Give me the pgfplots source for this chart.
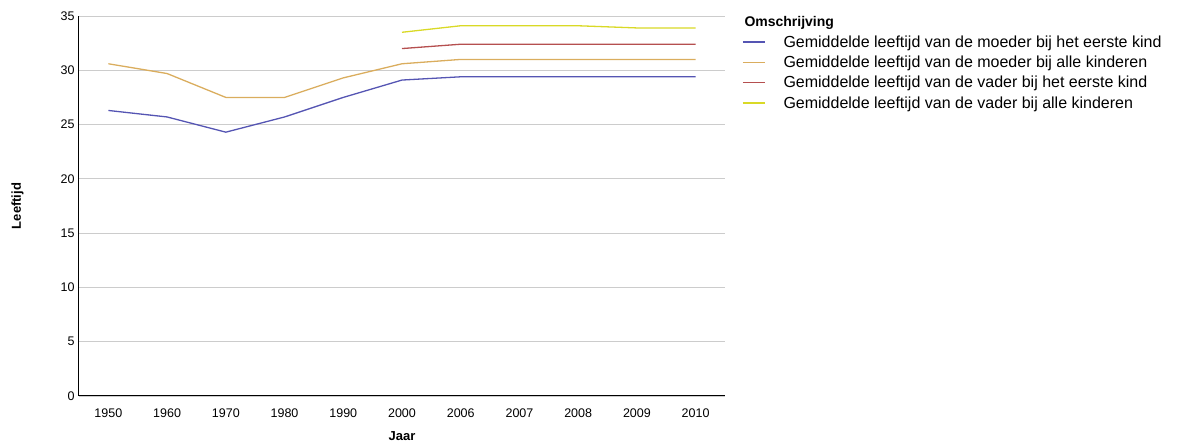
\documentclass[border=0pt]{standalone}
\usepackage{fontspec}
\setmainfont{Liberation Sans}
\usepackage{pgfplots}
\pgfplotsset{compat=1.18}
\definecolor{cblue}{HTML}{5555B3}
\definecolor{corange}{HTML}{DAAD5E}
\definecolor{cred}{HTML}{B54F4F}
\definecolor{cyellow}{HTML}{D9D926}
\begin{document}
\begin{tikzpicture}
\useasboundingbox (-79pt,-50pt) rectangle (1105pt,396pt);
\begin{axis}[
  anchor=south west, at={(0pt,0pt)},
  scale only axis, width=646pt, height=380pt,
  xmin=-0.5, xmax=10.5, ymin=0, ymax=35,
  xtick={0,...,10},
  xticklabels={1950,1960,1970,1980,1990,2000,2006,2007,2008,2009,2010},
  ytick={0,5,...,35},
  axis x line*=bottom, axis y line*=left,
  axis line style={black, line width=1pt, -},
  major tick length=0pt,
  ymajorgrids, grid style={gray!40, line width=0.8pt},
  /pgf/number format/assume math mode=true,
  tick label style={font=\fontsize{12.5}{14}\selectfont},
  yticklabel style={xshift=-1pt},
  xticklabel style={yshift=-9pt},
  xlabel={\bfseries Jaar}, ylabel={\bfseries Leeftijd},
  label style={font=\fontsize{13}{15}\selectfont},
  xlabel style={yshift=-7pt},
  ylabel style={yshift=30pt},
  legend style={at={(1,1)}, anchor=north west, xshift=14pt, yshift=3pt,
    draw=none, font=\fontsize{16}{18}\selectfont, row sep=4.2pt,
    column sep=9pt,
    legend cell align=left,
    nodes={inner xsep=9pt, inner ysep=1.5pt}},
  legend image code/.code={\draw[#1] (0pt,0pt) -- (22pt,0pt);},
]
\addplot[cblue, line width=1.3pt, forget plot] coordinates {(0,26.3)(1,25.7)(2,24.3)(3,25.7)(4,27.5)(5,29.1)(6,29.4)(7,29.4)(8,29.4)(9,29.4)(10,29.4)};
\addplot[corange, line width=1.3pt, forget plot] coordinates {(0,30.6)(1,29.7)(2,27.5)(3,27.5)(4,29.3)(5,30.6)(6,31.0)(7,31.0)(8,31.0)(9,31.0)(10,31.0)};
\addplot[cred, line width=1.3pt, forget plot] coordinates {(5,32.0)(6,32.4)(7,32.4)(8,32.4)(9,32.4)(10,32.4)};
\addplot[cyellow, line width=1.3pt, forget plot] coordinates {(5,33.5)(6,34.1)(7,34.1)(8,34.1)(9,33.9)(10,33.9)};
\addlegendimage{empty legend}
\addlegendentry{\hspace{-39pt}\fontsize{14}{16}\selectfont\bfseries Omschrijving}
\addlegendimage{cblue, line width=1.3pt}
\addlegendentry{Gemiddelde leeftijd van de moeder bij het eerste kind}
\addlegendimage{corange, line width=1.3pt}
\addlegendentry{Gemiddelde leeftijd van de moeder bij alle kinderen}
\addlegendimage{cred, line width=1.3pt}
\addlegendentry{Gemiddelde leeftijd van de vader bij het eerste kind}
\addlegendimage{cyellow, line width=1.3pt}
\addlegendentry{Gemiddelde leeftijd van de vader bij alle kinderen}
\end{axis}
\end{tikzpicture}
\end{document}
